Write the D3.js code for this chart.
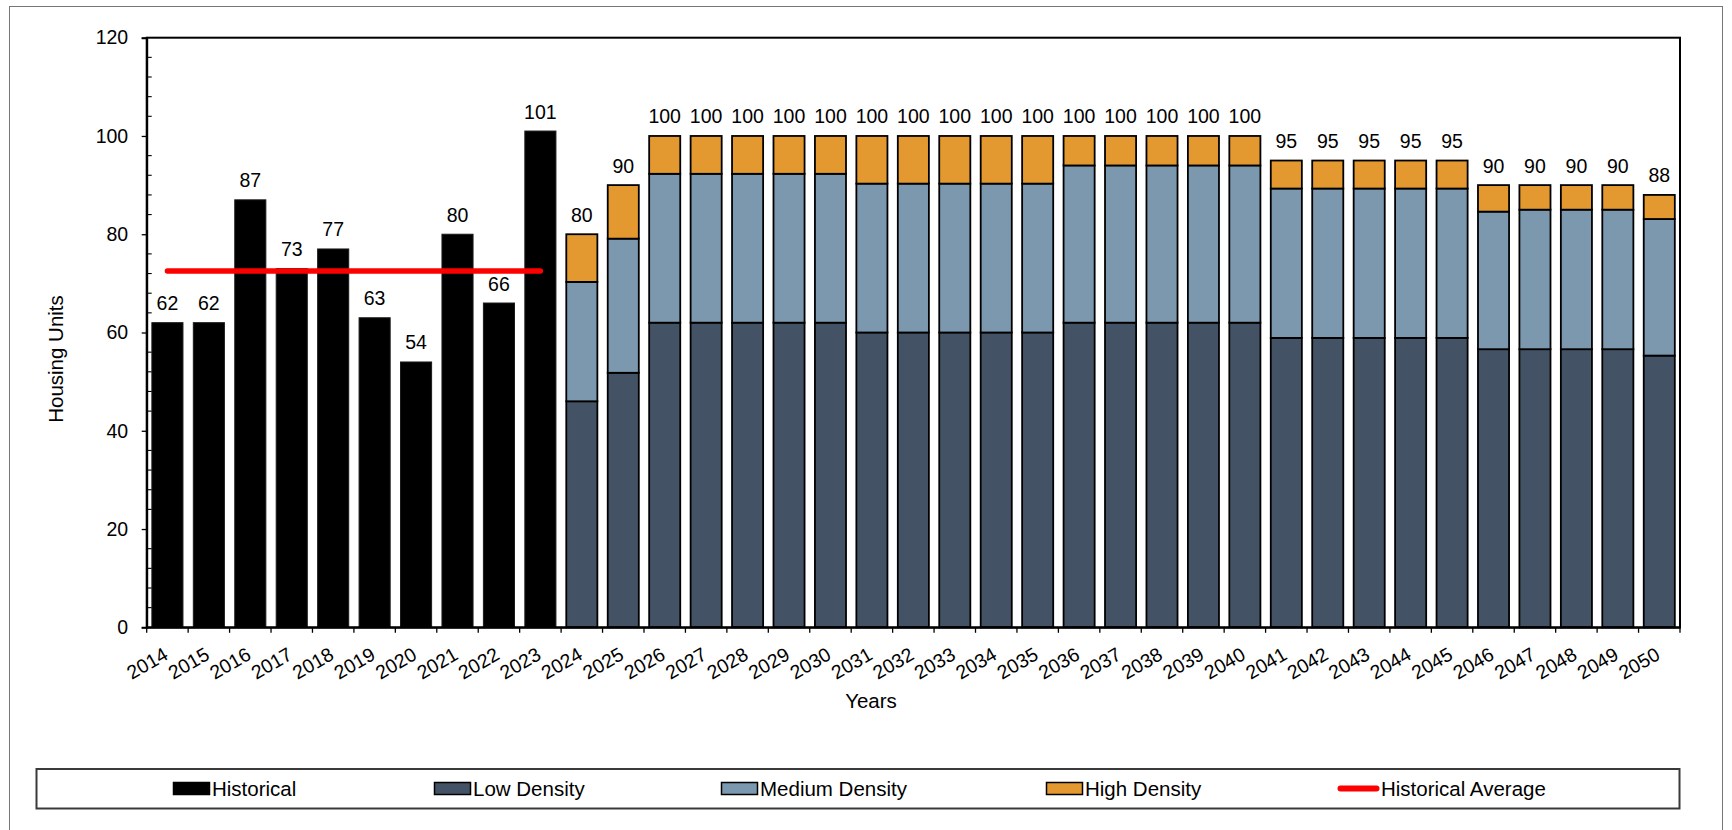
<!DOCTYPE html>
<html>
<head>
<meta charset="utf-8">
<script src="https://cdn.jsdelivr.net/npm/d3@7"></script>
<style>
  html, body { margin: 0; padding: 0; background: #fff; }
  svg { display: block; font-family: "Liberation Sans", Arial, sans-serif; }
</style>
</head>
<body>
<svg id="chart" width="1732" height="830"></svg>
<script>
// Annual housing units: recorded years and projected split by density
const historicalYears = ["2014", "2015", "2016", "2017", "2018", "2019", "2020", "2021", "2022", "2023"];
const historical = [62, 62, 87, 73, 77, 63, 54, 80, 66, 101];

const forecastYears = ["2024", "2025", "2026", "2027", "2028", "2029", "2030", "2031", "2032", "2033",
  "2034", "2035", "2036", "2037", "2038", "2039", "2040", "2041", "2042", "2043", "2044", "2045",
  "2046", "2047", "2048", "2049", "2050"];
const lowDensity = [46, 51.8, 62, 62, 62, 62, 62, 60, 60, 60, 60, 60, 62, 62, 62, 62, 62,
  58.9, 58.9, 58.9, 58.9, 58.9, 56.6, 56.6, 56.6, 56.6, 55.3];
const mediumDensity = [24.3, 27.3, 30.3, 30.3, 30.3, 30.3, 30.3, 30.3, 30.3, 30.3, 30.3, 30.3,
  32, 32, 32, 32, 32, 30.4, 30.4, 30.4, 30.4, 30.4, 28.0, 28.4, 28.4, 28.4, 27.8];
const highDensity = [9.7, 10.9, 7.7, 7.7, 7.7, 7.7, 7.7, 9.7, 9.7, 9.7, 9.7, 9.7,
  6, 6, 6, 6, 6, 5.7, 5.7, 5.7, 5.7, 5.7, 5.4, 5.0, 5.0, 5.0, 4.9];

const yTickValues = [0, 20, 40, 60, 80, 100, 120];
const yMinorStep = 4;

const seriesNames = ["Low Density", "Medium Density", "High Density"];
const colors = {
  "Historical": "#000000",
  "Low Density": "#435365",
  "Medium Density": "#7b98ae",
  "High Density": "#e3992f",
  "Historical Average": "#ff0000"
};

const years = historicalYears.concat(forecastYears);

const svg = d3.select("#chart");
const plot = { left: 146.7, right: 1680, top: 37.7, bottom: 627.3 };
const numFont = 19.5;
const textFont = 20.5;

// outer chart frame
svg.append("rect")
  .attr("x", 9.5).attr("y", 6.5)
  .attr("width", 1713).attr("height", 900)
  .attr("fill", "#fff").attr("stroke", "#767676").attr("stroke-width", 1);

const x = d3.scaleBand()
  .domain(years)
  .range([plot.left, plot.right])
  .paddingInner(0.25)
  .paddingOuter(0.125);

const y = d3.scaleLinear()
  .domain([0, 120])
  .range([plot.bottom, plot.top]);

// historical bars
const histRows = historicalYears.map((yr, i) => ({ year: yr, value: historical[i] }));
svg.append("g").selectAll("rect")
  .data(histRows)
  .join("rect")
  .attr("x", d => x(d.year))
  .attr("width", x.bandwidth())
  .attr("y", d => y(d.value))
  .attr("height", d => y(0) - y(d.value))
  .attr("fill", colors["Historical"])
  .attr("stroke", "#1a1a1a")
  .attr("stroke-width", 1);

// stacked forecast bars
const forecastRows = forecastYears.map((yr, i) => ({
  year: yr,
  "Low Density": lowDensity[i],
  "Medium Density": mediumDensity[i],
  "High Density": highDensity[i]
}));
const stacked = d3.stack().keys(seriesNames)(forecastRows);

svg.append("g").selectAll("g")
  .data(stacked)
  .join("g")
  .attr("fill", s => colors[s.key])
  .selectAll("rect")
  .data(s => s)
  .join("rect")
  .attr("x", d => x(d.data.year))
  .attr("width", x.bandwidth())
  .attr("y", d => y(d[1]))
  .attr("height", d => y(d[0]) - y(d[1]))
  .attr("stroke", "#000")
  .attr("stroke-width", 1.8);

// value labels above bars
const totals = histRows.map(d => ({ year: d.year, value: d.value }))
  .concat(forecastRows.map(d => ({ year: d.year, value: d["Low Density"] + d["Medium Density"] + d["High Density"] })));
svg.append("g").selectAll("text")
  .data(totals)
  .join("text")
  .attr("x", d => x(d.year) + x.bandwidth() / 2)
  .attr("y", d => y(d.value) - 12.5)
  .attr("text-anchor", "middle")
  .attr("font-size", numFont)
  .attr("fill", "#000")
  .text(d => d3.format(".0f")(d.value));

// historical average line
const histAvg = d3.mean(historical);
svg.append("line")
  .attr("x1", x(historicalYears[0]) + x.bandwidth() / 2)
  .attr("x2", x(historicalYears[historicalYears.length - 1]) + x.bandwidth() / 2)
  .attr("y1", y(histAvg)).attr("y2", y(histAvg))
  .attr("stroke", colors["Historical Average"])
  .attr("stroke-width", 5.5)
  .attr("stroke-linecap", "round");

// plot frame
svg.append("rect")
  .attr("x", plot.left).attr("y", plot.top)
  .attr("width", plot.right - plot.left).attr("height", plot.bottom - plot.top)
  .attr("fill", "none").attr("stroke", "#000").attr("stroke-width", 2);

// y axis
const yAxis = svg.append("g")
  .attr("transform", `translate(${plot.left},0)`)
  .call(d3.axisLeft(y).tickValues(yTickValues).tickSize(5).tickPadding(13.5).tickFormat(d3.format("d")));
yAxis.select(".domain").attr("stroke", "#000").attr("stroke-width", 2);
yAxis.selectAll(".tick line").attr("stroke", "#000").attr("stroke-width", 1.3);
yAxis.selectAll(".tick text")
  .attr("font-size", numFont)
  .attr("font-family", "Liberation Sans, Arial, sans-serif")
  .attr("fill", "#000");

// minor ticks inside the axis
svg.append("g").selectAll("line")
  .data(d3.range(0, 121, yMinorStep).filter(v => v % 20 !== 0))
  .join("line")
  .attr("x1", plot.left).attr("x2", plot.left + 5)
  .attr("y1", d => y(d)).attr("y2", d => y(d))
  .attr("stroke", "#000").attr("stroke-width", 1.1);

// x axis: labels at bar centres, tick marks at category boundaries
const xAxis = svg.append("g")
  .attr("transform", `translate(0,${plot.bottom})`)
  .call(d3.axisBottom(x).tickSize(0).tickPadding(0));
xAxis.select(".domain").attr("stroke", "#000").attr("stroke-width", 2);
xAxis.selectAll(".tick text")
  .attr("font-size", numFont)
  .attr("font-family", "Liberation Sans, Arial, sans-serif")
  .attr("fill", "#000")
  .attr("text-anchor", "end")
  .attr("dy", null)
  .attr("y", 0)
  .attr("transform", "translate(2,31) rotate(-30)");

const step = x.step();
const boundaries = years.map(yr => x(yr) - x.paddingInner() * step / 2).concat([plot.right]);
svg.append("g").selectAll("line")
  .data(boundaries)
  .join("line")
  .attr("x1", d => d).attr("x2", d => d)
  .attr("y1", plot.bottom).attr("y2", plot.bottom + 5.5)
  .attr("stroke", "#000").attr("stroke-width", 1.3);

// axis titles
svg.append("text")
  .attr("transform", "translate(62.5,359) rotate(-90)")
  .attr("text-anchor", "middle")
  .attr("font-size", textFont)
  .attr("fill", "#000")
  .text("Housing Units");

svg.append("text")
  .attr("x", 871).attr("y", 708)
  .attr("text-anchor", "middle")
  .attr("font-size", textFont)
  .attr("fill", "#000")
  .text("Years");

// legend
const legend = svg.append("g");
legend.append("rect")
  .attr("x", 36.5).attr("y", 769)
  .attr("width", 1643).attr("height", 39.5)
  .attr("fill", "#fff").attr("stroke", "#3a3a3a").attr("stroke-width", 2);

const legendItems = [
  { name: "Historical", x: 173.5, type: "box" },
  { name: "Low Density", x: 434.5, type: "box" },
  { name: "Medium Density", x: 721.5, type: "box" },
  { name: "High Density", x: 1046.5, type: "box" },
  { name: "Historical Average", x: 1337.5, type: "line" }
];
const legendY = 788.5;
const li = legend.selectAll("g.item")
  .data(legendItems)
  .join("g")
  .attr("class", "item");
li.filter(d => d.type === "box").append("rect")
  .attr("x", d => d.x).attr("y", legendY - 6)
  .attr("width", 36).attr("height", 12)
  .attr("fill", d => colors[d.name])
  .attr("stroke", "#000").attr("stroke-width", 1.5);
li.filter(d => d.type === "line").append("line")
  .attr("x1", d => d.x + 3).attr("x2", d => d.x + 39)
  .attr("y1", legendY).attr("y2", legendY)
  .attr("stroke", colors["Historical Average"])
  .attr("stroke-width", 6)
  .attr("stroke-linecap", "round");
li.append("text")
  .attr("x", d => d.x + (d.type === "line" ? 43.5 : 38.5))
  .attr("y", legendY)
  .attr("dy", "0.35em")
  .attr("font-size", textFont)
  .attr("fill", "#000")
  .text(d => d.name);
</script>
</body>
</html>
